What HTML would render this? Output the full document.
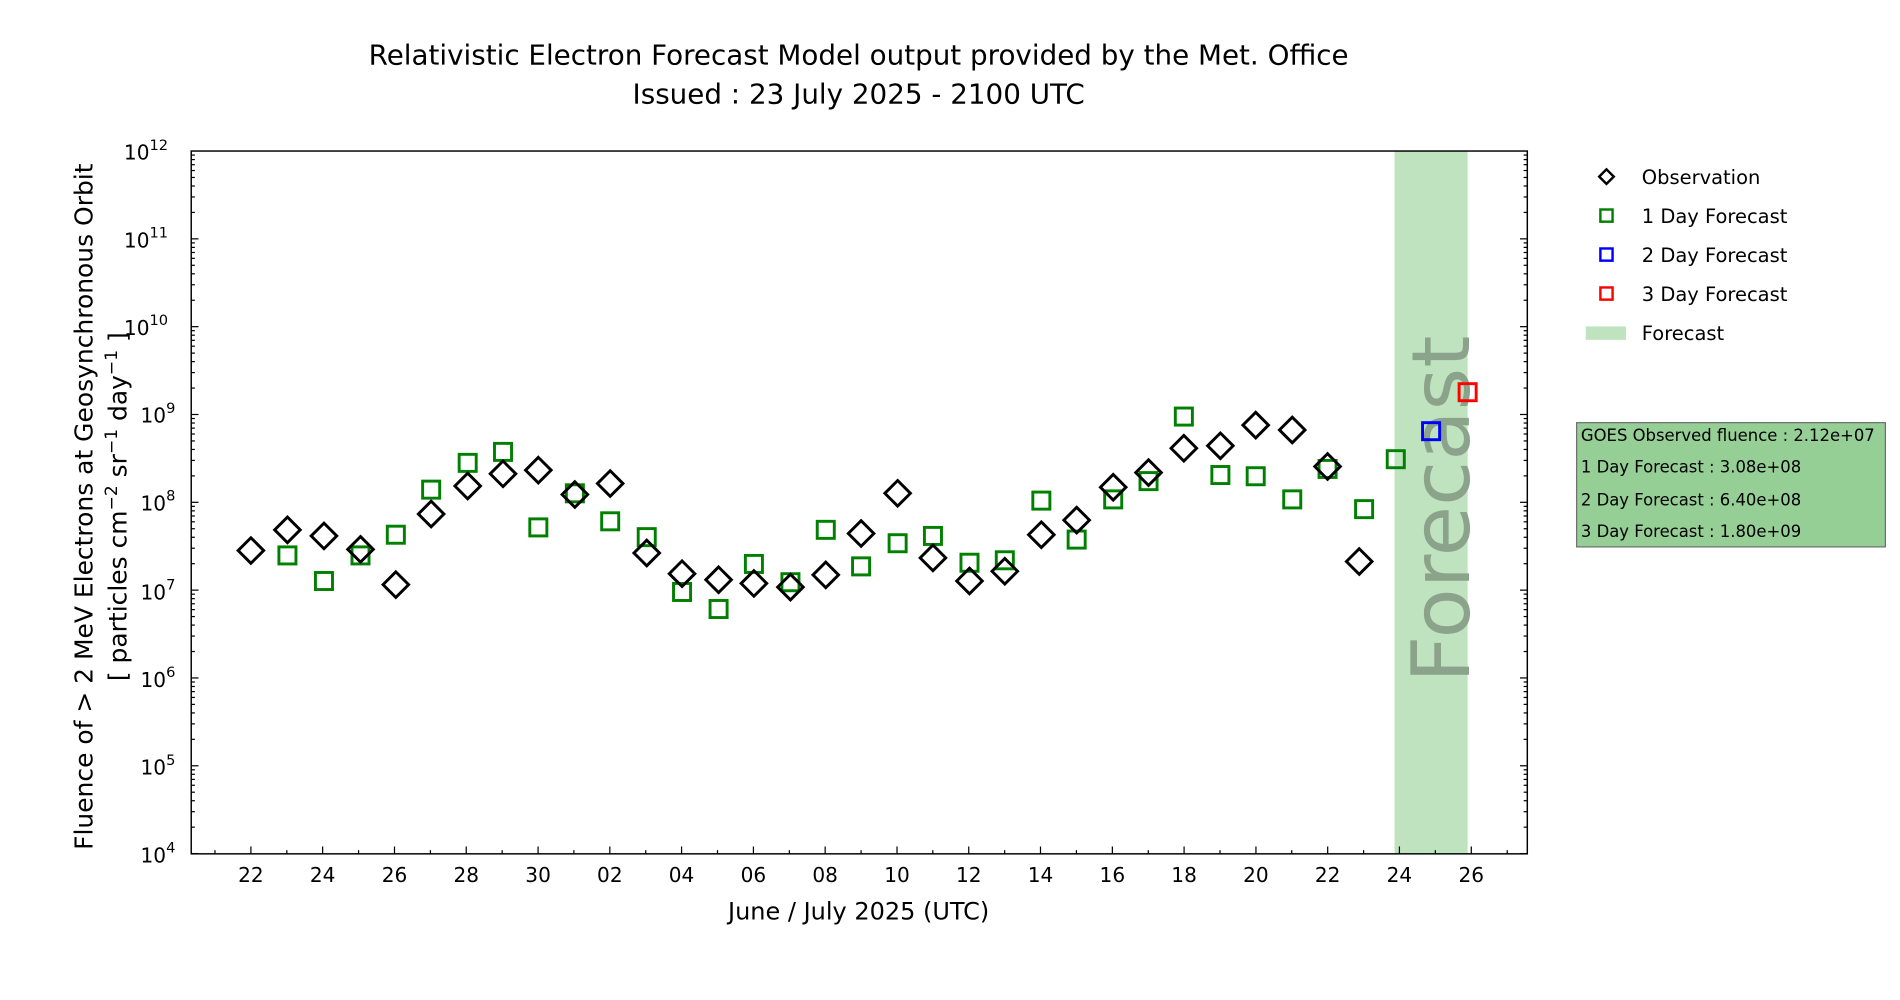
<!DOCTYPE html>
<html><head><meta charset="utf-8"><style>
html,body{margin:0;padding:0;background:#fff;width:1900px;height:1000px;overflow:hidden}
svg{display:block}
text{font-family:"DejaVu Sans","Liberation Sans",sans-serif;fill:#000}
</style></head><body>
<svg width="1900" height="1000" viewBox="0 0 1560 821" preserveAspectRatio="none" xmlns="http://www.w3.org/2000/svg">
<defs>
<g id="decL" stroke="#000" stroke-width="1">
<line x1="157" x2="160" y1="-21.7" y2="-21.7"/><line x1="157" x2="160" y1="-34.4" y2="-34.4"/><line x1="157" x2="160" y1="-43.4" y2="-43.4"/><line x1="157" x2="160" y1="-50.4" y2="-50.4"/><line x1="157" x2="160" y1="-56.1" y2="-56.1"/><line x1="157" x2="160" y1="-60.9" y2="-60.9"/><line x1="157" x2="160" y1="-65.1" y2="-65.1"/><line x1="157" x2="160" y1="-68.8" y2="-68.8"/>
<line x1="157" x2="163" y1="0" y2="0"/>
<line x1="1254" x2="1251" y1="-21.7" y2="-21.7"/><line x1="1254" x2="1251" y1="-34.4" y2="-34.4"/><line x1="1254" x2="1251" y1="-43.4" y2="-43.4"/><line x1="1254" x2="1251" y1="-50.4" y2="-50.4"/><line x1="1254" x2="1251" y1="-56.1" y2="-56.1"/><line x1="1254" x2="1251" y1="-60.9" y2="-60.9"/><line x1="1254" x2="1251" y1="-65.1" y2="-65.1"/><line x1="1254" x2="1251" y1="-68.8" y2="-68.8"/>
<line x1="1254" x2="1248" y1="0" y2="0"/>
</g>
<path id="dia" d="M0,-10.5 L10.5,0 L0,10.5 L-10.5,0 Z" fill="none" stroke="#000" stroke-width="2.4"/>
<rect id="sqg" x="-7" y="-7" width="14" height="14" fill="none" stroke="#008000" stroke-width="2.4"/>
</defs>

<rect x="1145" y="124" width="60" height="577" fill="#bfe3bf"/>
<text transform="translate(1206,418) rotate(-90)" text-anchor="middle" font-size="66" textLength="285" lengthAdjust="spacingAndGlyphs" style="fill:#8aa38a">Forecast</text>

<rect x="157" y="124" width="1097" height="577" fill="none" stroke="#000" stroke-width="1.2"/>
<use href="#decL" transform="translate(0,196.1)"/>
<use href="#decL" transform="translate(0,268.2)"/>
<use href="#decL" transform="translate(0,340.3)"/>
<use href="#decL" transform="translate(0,412.4)"/>
<use href="#decL" transform="translate(0,484.5)"/>
<use href="#decL" transform="translate(0,556.6)"/>
<use href="#decL" transform="translate(0,628.7)"/>
<use href="#decL" transform="translate(0,700.8)"/>

<g font-size="16.5" text-anchor="end">
<text x="138" y="131">10<tspan dy="-8" font-size="12">12</tspan></text>
<text x="138" y="203">10<tspan dy="-8" font-size="12">11</tspan></text>
<text x="138" y="275">10<tspan dy="-8" font-size="12">10</tspan></text>
<text x="144" y="347">10<tspan dy="-8" font-size="12">9</tspan></text>
<text x="144" y="419">10<tspan dy="-8" font-size="12">8</tspan></text>
<text x="144" y="492">10<tspan dy="-8" font-size="12">7</tspan></text>
<text x="144" y="564">10<tspan dy="-8" font-size="12">6</tspan></text>
<text x="144" y="636">10<tspan dy="-8" font-size="12">5</tspan></text>
<text x="144" y="708">10<tspan dy="-8" font-size="12">4</tspan></text>
</g>

<path stroke="#000" stroke-width="1" fill="none" d="M176.5,701v-3 M206,701v-6 M235.5,701v-3 M264.9,701v-6 M294.4,701v-3 M323.9,701v-6 M353.4,701v-3 M382.8,701v-6 M412.3,701v-3 M441.8,701v-6 M471.2,701v-3 M500.7,701v-6 M530.2,701v-3 M559.6,701v-6 M589.1,701v-3 M618.6,701v-6 M648.1,701v-3 M677.5,701v-6 M707,701v-3 M736.5,701v-6 M765.9,701v-3 M795.4,701v-6 M824.9,701v-3 M854.3,701v-6 M883.8,701v-3 M913.3,701v-6 M942.8,701v-3 M972.2,701v-6 M1001.7,701v-3 M1031.2,701v-6 M1060.6,701v-3 M1090.1,701v-6 M1119.6,701v-3 M1149,701v-6 M1178.5,701v-3 M1208,701v-6 M1237.5,701v-3"/>
<g font-size="16.5" text-anchor="middle">
<text x="206" y="724">22</text><text x="264.9" y="724">24</text><text x="323.9" y="724">26</text><text x="382.8" y="724">28</text><text x="441.8" y="724">30</text><text x="500.7" y="724">02</text><text x="559.6" y="724">04</text><text x="618.6" y="724">06</text><text x="677.5" y="724">08</text><text x="736.5" y="724">10</text><text x="795.4" y="724">12</text><text x="854.3" y="724">14</text><text x="913.3" y="724">16</text><text x="972.2" y="724">18</text><text x="1031.2" y="724">20</text><text x="1090.1" y="724">22</text><text x="1149" y="724">24</text><text x="1208" y="724">26</text>
</g>

<text x="705" y="53" font-size="22.8" text-anchor="middle">Relativistic Electron Forecast Model output provided by the Met. Office</text>
<text x="705" y="85" font-size="22.8" text-anchor="middle">Issued : 23 July 2025 - 2100 UTC</text>
<text x="705" y="755" font-size="19.7" text-anchor="middle">June / July 2025 (UTC)</text>
<text transform="translate(76,416) rotate(-90)" font-size="20.5" text-anchor="middle">Fluence of &gt; 2 MeV Electrons at Geosynchronous Orbit</text>
<text transform="translate(104,416) rotate(-90)" font-size="20.5" text-anchor="middle">[ particles cm<tspan dy="-8" font-size="14">−2</tspan><tspan dy="8"> sr</tspan><tspan dy="-8" font-size="14">−1</tspan><tspan dy="8"> day</tspan><tspan dy="-8" font-size="14">−1</tspan><tspan dy="8"> ]</tspan></text>

<use href="#sqg" x="236" y="456"/><use href="#sqg" x="266" y="477"/><use href="#sqg" x="296" y="456"/><use href="#sqg" x="325" y="439"/><use href="#sqg" x="354" y="402"/><use href="#sqg" x="384" y="380"/><use href="#sqg" x="413" y="371"/><use href="#sqg" x="442" y="433"/><use href="#sqg" x="472" y="405"/><use href="#sqg" x="501" y="428"/><use href="#sqg" x="531" y="441"/><use href="#sqg" x="560" y="486"/><use href="#sqg" x="590" y="500"/><use href="#sqg" x="619" y="463"/><use href="#sqg" x="649" y="478"/><use href="#sqg" x="678" y="435"/><use href="#sqg" x="707" y="465"/><use href="#sqg" x="737" y="446"/><use href="#sqg" x="766" y="440"/><use href="#sqg" x="796" y="462"/><use href="#sqg" x="825" y="460"/><use href="#sqg" x="855" y="411"/><use href="#sqg" x="884" y="443"/><use href="#sqg" x="914" y="410"/><use href="#sqg" x="943" y="395"/><use href="#sqg" x="972" y="342"/><use href="#sqg" x="1002" y="390"/><use href="#sqg" x="1031" y="391"/><use href="#sqg" x="1061" y="410"/><use href="#sqg" x="1090" y="385"/><use href="#sqg" x="1120" y="418"/><use href="#sqg" x="1146" y="377"/>
<rect x="1168" y="347" width="14" height="14" fill="none" stroke="#0000ff" stroke-width="2.4"/>
<rect x="1198" y="315" width="14" height="14" fill="none" stroke="#ff0000" stroke-width="2.4"/>

<use href="#dia" x="206" y="452"/><use href="#dia" x="236" y="435"/><use href="#dia" x="266" y="440"/><use href="#dia" x="296" y="451"/><use href="#dia" x="325" y="480"/><use href="#dia" x="354" y="422"/><use href="#dia" x="384" y="399"/><use href="#dia" x="413" y="389"/><use href="#dia" x="442" y="386"/><use href="#dia" x="472" y="406"/><use href="#dia" x="501" y="397"/><use href="#dia" x="531" y="454"/><use href="#dia" x="560" y="471"/><use href="#dia" x="590" y="476"/><use href="#dia" x="619" y="479"/><use href="#dia" x="649" y="482"/><use href="#dia" x="678" y="472"/><use href="#dia" x="707" y="438"/><use href="#dia" x="737" y="405"/><use href="#dia" x="766" y="458"/><use href="#dia" x="796" y="477"/><use href="#dia" x="825" y="469"/><use href="#dia" x="855" y="439"/><use href="#dia" x="884" y="427"/><use href="#dia" x="914" y="400"/><use href="#dia" x="943" y="388"/><use href="#dia" x="972" y="368"/><use href="#dia" x="1002" y="366"/><use href="#dia" x="1031" y="349"/><use href="#dia" x="1061" y="353"/><use href="#dia" x="1090" y="383"/><use href="#dia" x="1116" y="461"/>

<path d="M1319,139 L1325,145 L1319,151 L1313,145 Z" fill="none" stroke="#000" stroke-width="2"/>
<rect x="1314" y="172" width="10" height="10" fill="none" stroke="#008000" stroke-width="2"/>
<rect x="1314" y="204" width="10" height="10" fill="none" stroke="#0000ff" stroke-width="2"/>
<rect x="1314" y="236" width="10" height="10" fill="none" stroke="#ff0000" stroke-width="2"/>
<rect x="1302" y="268" width="33" height="11" fill="#bfe3bf"/>
<g font-size="16">
<text x="1348" y="151">Observation</text>
<text x="1348" y="183">1 Day Forecast</text>
<text x="1348" y="215">2 Day Forecast</text>
<text x="1348" y="247">3 Day Forecast</text>
<text x="1348" y="279">Forecast</text>
</g>

<rect x="1294.5" y="347" width="253.5" height="102" fill="#95cf95" stroke="#6e6e6e" stroke-width="1"/>
<g font-size="13.5">
<text x="1298" y="362">GOES Observed fluence : 2.12e+07</text>
<text x="1298" y="388">1 Day Forecast : 3.08e+08</text>
<text x="1298" y="415">2 Day Forecast : 6.40e+08</text>
<text x="1298" y="441">3 Day Forecast : 1.80e+09</text>
</g>
</svg>
</body></html>
